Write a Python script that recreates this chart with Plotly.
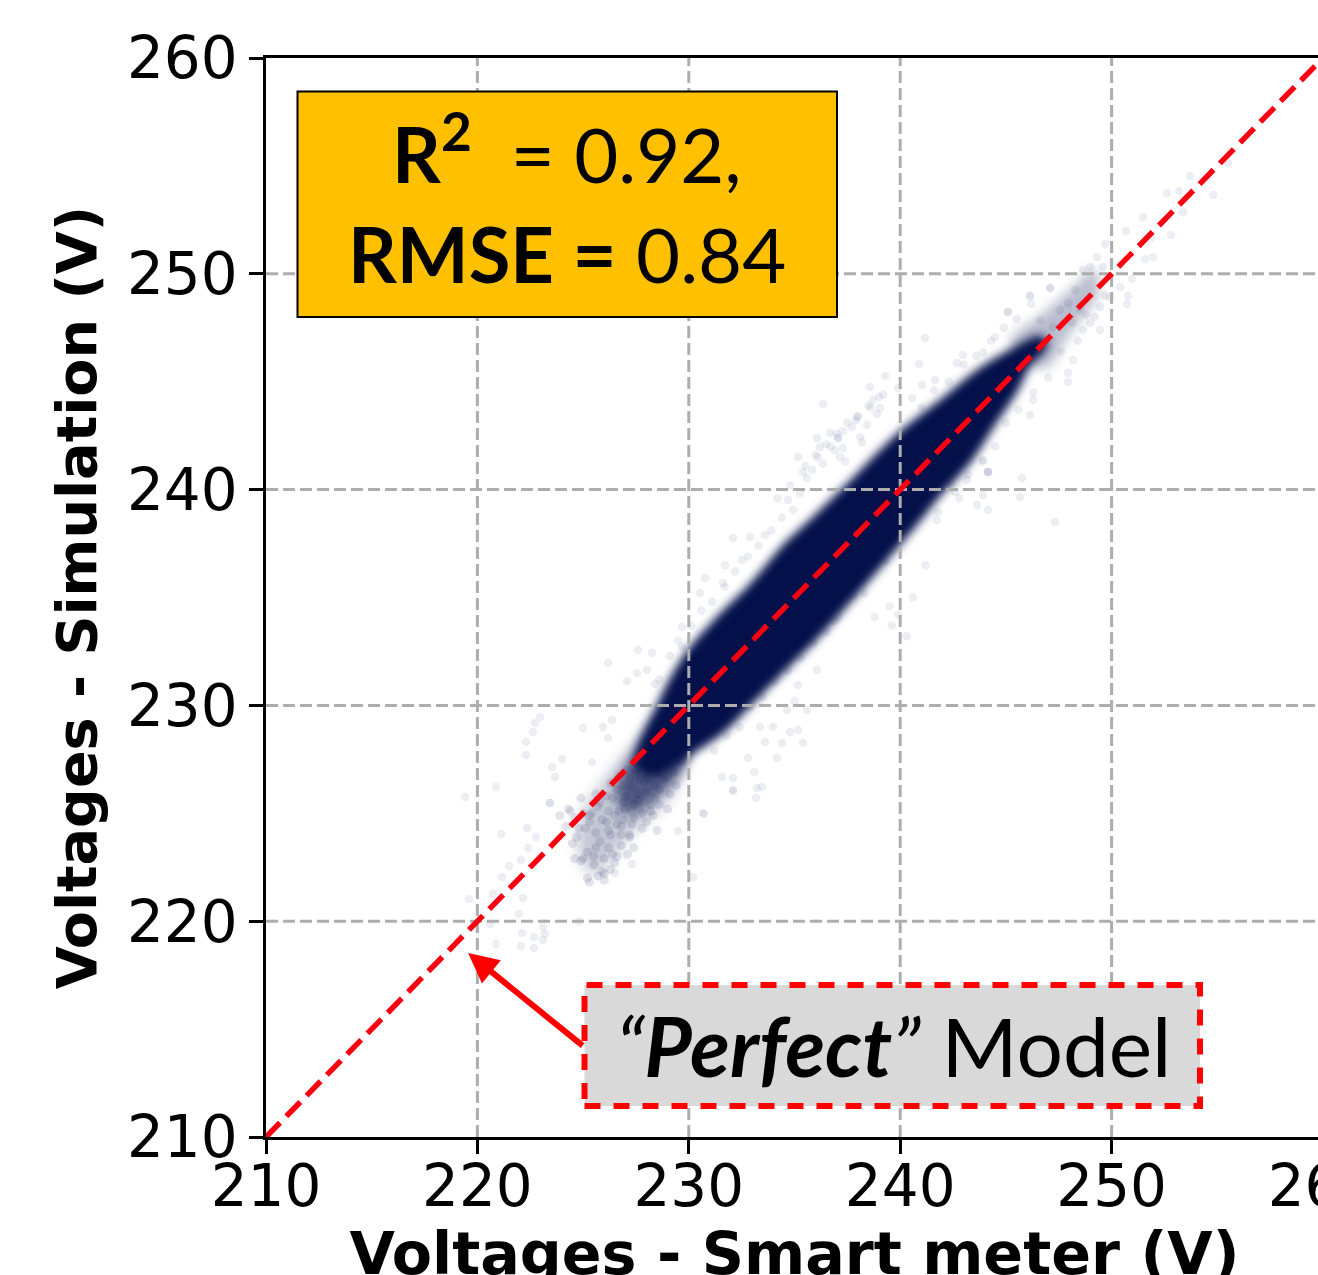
import json
import plotly.graph_objects as go

tick_values = [210, 220, 230, 240, 250, 260]
perfect_line = [210, 260]
x_label = "Voltages - Smart meter (V)"
y_label = "Voltages - Simulation (V)"

core_x = [227.7, 228.4, 229.96, 231.48, 233.04, 234.65, 235.87, 237.48, 240.0, 242.21, 243.77, 245.34, 246.61,
          246.76, 246.0, 245.34, 244.39, 243.16, 241.74, 240.6, 236.06, 234.65, 233.04, 231.48, 230.06, 228.31]
core_y = [227.24, 229.32, 232.24, 233.96, 235.49, 237.34, 238.45, 239.98, 242.44, 244.15, 245.4, 246.33, 246.93,
          246.7, 245.87, 244.62, 243.22, 241.37, 239.84, 238.45, 233.35, 231.96, 230.39, 228.86, 227.93, 226.91]

tail_outer_x = [224.9, 226.2, 227.4, 228.6, 229.8, 229.4, 228.2, 227.2, 226.4, 225.6, 224.9]
tail_outer_y = [224.8, 226.8, 228.2, 229.6, 227.8, 226.2, 224.8, 224.0, 223.0, 222.2, 222.8]
tail_inner_x = [226.6, 227.4, 228.4, 229.4, 230.0, 229.4, 228.4, 227.4, 226.8]
tail_inner_y = [226.2, 227.8, 229.2, 229.6, 227.8, 226.6, 225.7, 225.0, 225.2]
tip_x = [245.2, 246.8, 248.0, 249.2, 249.4, 248.0, 246.8]
tip_y = [246.8, 248.2, 249.2, 250.2, 249.2, 247.2, 245.6]

sparse_x = [219.41, 220.88, 223.43, 222.35, 221.12, 222.77, 222.39, 222.06, 221.5, 221.16, 220.74, 219.6, 222.16, 221.97,
            220.6, 222.11, 222.68, 223.2, 223.1, 223.1, 220.88, 222.06, 222.68, 224.8, 230.2, 230.72, 229.49, 232.09,
            227.31, 226.51, 226.18, 227.6, 228.26, 227.08, 227.55, 228.02, 228.4, 229.68, 229.68, 230.53, 230.77, 231.62,
            231.71, 232.52, 232.9, 233.6, 232.09, 222.96, 222.72, 222.63, 222.3, 222.3, 224.0, 223.53, 223.67, 225.0,
            225.94, 226.37, 226.18, 225.42, 223.43, 235.17, 235.59, 235.17, 234.79, 235.4, 234.41, 234.17, 233.6, 232.8,
            233.37, 233.98, 234.65, 232.09, 231.57, 232.09, 233.23, 233.46, 233.18, 230.67, 236.06, 236.35, 239.28, 238.57,
            239.9, 241.03, 241.17, 240.89, 238.71, 239.04, 237.06, 237.06, 236.68, 236.06, 236.2, 236.92, 237.29, 237.96,
            238.43, 238.1, 235.17, 235.83, 235.59, 236.35, 237.15, 234.69, 235.26, 234.93, 244.15, 244.15, 244.15, 245.76,
            245.67, 243.92, 243.16, 243.92, 244.15, 243.63, 247.33, 246.28, 246.14, 247.94, 247.94, 248.17, 241.79, 241.74,
            240.94, 242.97, 243.92, 244.48, 245.1, 246.14, 247.09, 242.69, 241.65, 240.56, 253.71, 252.62, 253.19, 254.8,
            255.5, 253.38, 251.49, 250.68, 252.81, 251.86, 249.69, 251.58, 251.96, 250.4, 250.78, 250.73, 250.96, 247.09,
            246.14, 245.1, 248.98, 249.31, 248.65, 249.59, 248.27, 247.94, 248.51, 247.56, 248.13, 248.98, 249.45, 249.92,
            246.61, 247.23, 248.65, 249.45, 237.7, 238.9, 234.2, 233.1, 236.9, 235.0, 237.8, 239.3, 242.4, 242.8,
            241.2, 238.3, 239.5, 238.8, 239.9, 240.6, 235.5, 236.0, 236.5, 237.0, 237.5, 238.0, 238.5, 239.0,
            234.2, 234.8, 235.4, 236.1, 236.7, 237.3, 237.9, 238.6, 239.2, 237.4, 238.2, 239.6, 240.3,
            228.6, 229.1, 229.5, 230.1, 230.6, 231.1, 231.7, 232.2, 232.8, 233.3, 233.9, 234.4, 241.0, 241.6, 242.3, 243.0,
            243.6, 244.3, 244.9, 245.5, 246.2, 231.2, 231.8, 232.4, 232.9, 233.5, 234.1, 234.7, 235.3, 235.9, 236.5, 237.1,
            242.6, 243.2, 243.9, 244.5, 245.0, 245.6, 246.3, 247.0, 247.6, 248.4, 248.8, 249.2, 249.7]
sparse_y = [225.76, 226.22, 225.48, 224.32, 224.04, 223.9, 223.39, 222.84, 222.56, 222.05, 221.26, 221.03, 221.07, 220.33,
            219.87, 219.45, 219.27, 219.41, 219.73, 219.13, 218.94, 218.85, 218.76, 220.0, 222.05, 224.97, 224.18, 226.03,
            222.65, 222.23, 231.96, 232.57, 232.43, 231.13, 231.5, 231.64, 231.0, 233.63, 232.71, 235.21, 235.9, 235.67,
            236.5, 236.74, 237.8, 237.9, 237.76, 229.46, 229.18, 228.77, 228.3, 227.7, 227.52, 227.15, 226.68, 228.95,
            229.0, 229.32, 228.49, 227.38, 225.48, 230.95, 229.79, 228.86, 228.77, 228.26, 228.26, 227.56, 228.3, 227.56,
            229.0, 229.0, 229.79, 226.64, 226.68, 226.08, 226.17, 226.22, 225.71, 225.01, 231.64, 243.97, 245.26, 244.75,
            244.71, 244.85, 247.03, 245.82, 244.15, 243.78, 242.39, 242.39, 242.62, 242.39, 241.97, 241.83, 241.93, 243.36,
            243.0, 242.44, 241.51, 240.91, 240.54, 241.2, 241.51, 239.52, 239.84, 239.05, 240.82, 240.82, 240.82, 240.54,
            239.66, 241.37, 240.44, 239.75, 239.05, 239.29, 238.5, 244.15, 243.46, 245.4, 244.99, 246.0, 238.96, 238.59,
            239.05, 246.24, 246.37, 247.07, 248.23, 249.02, 249.34, 245.87, 245.08, 244.25, 254.53, 253.74, 253.84, 253.65,
            255.13, 252.86, 252.63, 251.98, 251.8, 251.66, 251.38, 250.69, 250.78, 249.39, 248.97, 248.6, 249.76, 249.34,
            248.93, 248.23, 250.31, 250.78, 250.17, 250.31, 249.25, 248.65, 248.32, 248.32, 247.72, 247.72, 248.46, 248.93,
            247.86, 247.54, 247.4, 247.4, 242.9, 243.5, 232.1, 226.9, 233.9, 230.2, 235.1, 236.7, 240.3, 239.6,
            236.5, 235.2, 234.6, 234.1, 234.2, 235.0, 241.1, 241.6, 242.1, 242.6, 243.1, 243.4, 243.9, 244.3,
            239.6, 240.2, 240.8, 241.5, 242.0, 242.7, 243.2, 243.8, 244.4, 241.3, 242.2, 233.7, 233.2,
            231.2, 232.3, 233.0, 233.7, 234.4, 234.8, 235.5, 236.2, 236.9, 237.4, 238.1, 238.7, 243.8, 244.6, 245.0, 245.8,
            246.2, 246.9, 247.5, 247.9, 248.6, 227.9, 228.6, 229.0, 229.9, 230.4, 231.1, 231.6, 232.2, 232.9, 233.4, 234.1,
            239.9, 240.7, 241.3, 242.0, 243.1, 243.7, 244.5, 245.2, 246.4, 246.9, 248.1, 248.0, 249.0]

tail_x = [224.4, 224.9, 225.3, 224.7, 225.6, 225.2, 225.9, 225.5, 226.1, 225.8, 226.3, 226.0, 226.5, 226.2, 226.7,
          226.4, 226.9, 226.6, 227.1, 226.8, 227.3, 227.0, 227.5, 227.2, 227.7, 227.4, 227.9, 227.6, 228.1, 227.8,
          228.3, 228.0, 228.5, 228.2, 228.7, 228.4, 225.1, 225.7, 226.3, 226.9, 227.5, 228.1, 228.7, 224.6, 225.4,
          226.0, 226.6, 227.2, 227.8, 228.4, 225.0, 225.6, 226.2, 226.8, 227.4, 228.0, 228.6, 229.0, 229.2, 229.4,
          224.2, 224.5, 224.8, 225.2, 225.5, 225.9, 226.2, 226.5, 226.9, 227.2, 227.6, 227.9, 228.3, 228.6, 229.1,
          225.3, 225.8, 226.4, 227.0, 227.3, 227.7, 228.2, 228.8, 229.3, 229.6, 224.9, 225.6, 226.1, 226.7, 227.1,
          223.9, 224.3, 224.6, 225.0, 225.3, 225.7, 226.0, 226.6, 227.4, 228.0, 228.5, 229.0, 226.3, 226.8, 227.5]
tail_y = [225.1, 225.7, 224.6, 223.9, 225.9, 223.2, 224.7, 222.6, 225.8, 223.7, 226.4, 222.9, 224.9, 224.2, 226.7,
          223.1, 225.5, 226.1, 227.0, 224.4, 226.2, 225.2, 227.4, 223.9, 226.6, 224.8, 227.7, 225.6, 227.1, 224.3,
          228.0, 226.0, 226.9, 225.1, 228.2, 225.7, 224.3, 225.3, 224.0, 226.3, 227.0, 226.6, 227.6, 224.8, 225.0,
          222.2, 224.5, 224.0, 225.0, 226.3, 222.9, 224.1, 225.1, 223.5, 225.4, 227.9, 226.1, 226.7, 227.9, 226.3,
          224.4, 223.6, 224.3, 222.0, 223.0, 222.3, 223.4, 222.7, 224.7, 226.6, 225.9, 226.5, 224.9, 225.4, 225.9,
          224.9, 225.5, 225.7, 225.8, 224.5, 227.2, 225.4, 226.6, 226.9, 227.4, 222.8, 223.4, 224.6, 225.1, 223.1,
          224.9, 225.2, 222.9, 225.0, 221.8, 222.1, 221.9, 223.0, 223.4, 224.6, 224.2, 225.2, 222.4, 224.0, 226.8]

arrow_tip_x = [219.56]
arrow_tip_y = [218.53]

fig = go.Figure()
blurred = {}  # trace index -> blur radius in px

def patch(xs, ys, alpha, blur, stroke=0):
    blurred[len(fig.data)] = blur
    fig.add_trace(go.Scatter(x=xs + xs[:1], y=ys + ys[:1], mode="lines", fill="toself", showlegend=False, hoverinfo="skip",
                             fillcolor=f"rgba(3,16,74,{alpha})",
                             line=dict(width=stroke, color=f"rgba(3,16,74,{alpha})", shape="spline", smoothing=1)))

fig.add_trace(go.Scatter(x=sparse_x, y=sparse_y, mode="markers", showlegend=False,
                         marker=dict(size=8.5, color="rgba(30,40,100,0.08)", line=dict(width=0))))
patch(tail_outer_x, tail_outer_y, 0.24, 7)
patch(tail_inner_x, tail_inner_y, 0.6, 6)
patch(tip_x, tip_y, 0.28, 6)
fig.add_trace(go.Scatter(x=tail_x, y=tail_y, mode="markers", showlegend=False,
                         marker=dict(size=9, color="rgba(30,40,100,0.12)", line=dict(width=0))))
patch(core_x, core_y, 1.0, 5, stroke=9)

for t in tick_values[1:-1]:
    fig.add_trace(go.Scatter(x=[t, t], y=[tick_values[0], tick_values[-1]], mode="lines", showlegend=False, hoverinfo="skip",
                             line=dict(color="#adadad", width=3, dash="12px,5px")))
    fig.add_trace(go.Scatter(x=[tick_values[0], tick_values[-1]], y=[t, t], mode="lines", showlegend=False, hoverinfo="skip",
                             line=dict(color="#adadad", width=3, dash="12px,5px")))
fig.add_trace(go.Scatter(x=perfect_line, y=perfect_line, mode="lines", showlegend=False,
                         line=dict(color="#fb0010", width=5.5, dash="20px,9px")))

W, H = 1400, 1340
L, T, R, B = 266, 58, W - 1323, H - 1137
pw, ph = W - L - R, H - T - B
def px(v): return (v - L) / pw
def py(v): return (H - B - v) / ph

fig.add_shape(type="rect", xref="paper", yref="paper", x0=px(297.5), x1=px(837), y0=py(317), y1=py(91.5),
              fillcolor="#ffc000", line=dict(color="black", width=2), layer="above")
fig.add_shape(type="rect", xref="paper", yref="paper", x0=px(584.5), x1=px(1200), y0=py(1106), y1=py(985),
              fillcolor="#d9d9d9", line=dict(color="#ff0000", width=6, dash="16px,13px"), layer="above")

FONT = "Lato"
fig.add_annotation(xref="paper", yref="paper", x=px(567), y=py(148), xanchor="center", yanchor="middle", showarrow=False,
                   text="<b>R<sup>2</sup></b>  = 0.92,", font=dict(family=FONT, size=76, color="black"))
fig.add_annotation(xref="paper", yref="paper", x=px(567), y=py(254), xanchor="center", yanchor="middle", showarrow=False,
                   text="<b>RMSE =</b> 0.84", font=dict(family=FONT, size=76, color="black"))
fig.add_annotation(xref="paper", yref="paper", x=px(893), y=py(1045), xanchor="center", yanchor="middle", showarrow=False,
                   text="<i>“<b>Perfect</b>”</i> Model",
                   font=dict(family=FONT, size=82, color="black"))
fig.add_annotation(x=arrow_tip_x[0], y=arrow_tip_y[0], ax=116, ay=94, axref="pixel", ayref="pixel",
                   text="", showarrow=True, arrowhead=2, arrowsize=1, arrowwidth=6, arrowcolor="#ff0000")

axis = dict(range=[tick_values[0], tick_values[-1]], tickmode="array", tickvals=tick_values,
            ticks="outside", ticklen=14, tickwidth=2.5, tickcolor="black",
            showline=True, linecolor="black", linewidth=2.5, mirror=True, showgrid=False, zeroline=False,
            tickfont=dict(family="DejaVu Sans", size=58, color="black"))
fig.update_xaxes(**axis, ticklabelstandoff=-17,
                 title=dict(text=f"<b>{x_label}</b>", standoff=4, font=dict(family="DejaVu Sans", size=58.7, color="black")))
fig.update_yaxes(**axis, title=dict(text=f"<b>{y_label}</b>", standoff=13, font=dict(family="DejaVu Sans", size=55.6, color="black")))
fig.update_layout(width=W, height=H, margin=dict(l=L, r=R, t=T, b=B), plot_bgcolor="white", paper_bgcolor="white",
                  showlegend=False)

post = """
document.body.style.margin='0';document.documentElement.style.overflow='hidden';
var blurMap = %s;
function softenCloud(){
  var groups = document.querySelectorAll('.scatterlayer .trace');
  Object.keys(blurMap).forEach(function(i){
    if (groups[i]) groups[i].style.filter = 'blur(' + blurMap[i] + 'px)';
  });
}
softenCloud(); setTimeout(softenCloud, 100); setTimeout(softenCloud, 500);
""" % json.dumps(blurred)
fig.write_html("out.html", config={"displayModeBar": False}, post_script=post)
